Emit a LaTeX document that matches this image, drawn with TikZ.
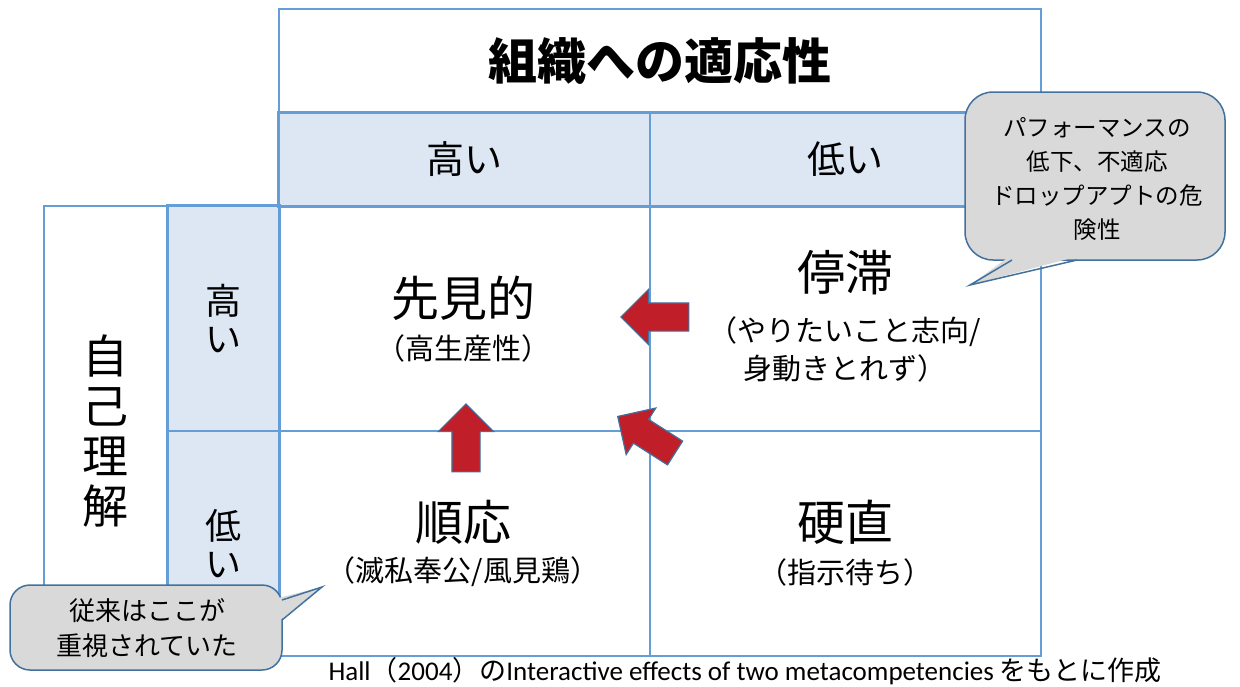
\documentclass[tikz,border=0pt]{standalone}
\usepackage{fontspec}
\setmainfont{Noto Sans CJK JP}
\newfontfamily\latinfont{Carlito}
\usepackage{xcolor}
\usepackage{tikz}
\usetikzlibrary{shapes.arrows}
\definecolor{gridcolor}{RGB}{101, 157, 214}
\definecolor{headcolor}{RGB}{221, 231, 243}
\definecolor{notecolor}{RGB}{217, 217, 217}
\definecolor{notelinecolor}{RGB}{65, 113, 156}
\definecolor{arrowcolor}{RGB}{192, 30, 40}
\tikzset{
    cell/.style={rectangle, draw=gridcolor, line width=1.6pt, anchor=north west, inner sep=0pt, align=center},
    head cell/.style={cell, fill=headcolor},
    head frame/.style={draw=gridcolor, line width=3pt},
    cell title/.style={font=\fontsize{48}{50}\selectfont, inner sep=0pt},
    cell sub/.style={font=\fontsize{29}{38}\selectfont, inner sep=0pt, align=center},
    note/.style={fill=notecolor, draw=notelinecolor, line width=1.5pt},
    note text/.style={align=center, inner sep=0pt},
    big arrow/.style={single arrow, fill=arrowcolor, draw=notelinecolor, line width=1.2pt, minimum height=68pt, minimum width=54pt, single arrow head extend=13.5pt, inner xsep=0pt, inner ysep=13.5pt, anchor=tip}
}
\begin{document}
\begin{tikzpicture}[x=1pt,y=-1pt]
\useasboundingbox (0,0) rectangle (1240,686);
% grid
\node[cell, minimum width=762pt, minimum height=104pt, font=\fontsize{49}{49}\selectfont\bfseries] (title) at (278,8) {組織への適応性};
\node[head cell, minimum width=371pt, minimum height=93pt, font=\fontsize{38}{38}\selectfont] (hdrHigh) at (278,112) {高い};
\node[head cell, minimum width=391pt, minimum height=93pt, font=\fontsize{38}{38}\selectfont] (hdrLow) at (649,112) {低い};
\node[cell, minimum width=124pt, minimum height=450pt, font=\fontsize{46}{50}\selectfont] (self) at (43,205) {自\\己\\理\\解};
\node[head cell, minimum width=111pt, minimum height=225pt, font=\fontsize{36}{38}\selectfont] (colHigh) at (167,205) {高\\い};
\node[head cell, minimum width=111pt, minimum height=225pt, font=\fontsize{36}{38}\selectfont] (colLow) at (167,430) {低\\い};
\node[cell, minimum width=371pt, minimum height=225pt] (hh) at (278,205) {};
\node[cell, minimum width=391pt, minimum height=225pt] (hl) at (649,205) {};
\node[cell, minimum width=371pt, minimum height=225pt] (lh) at (278,430) {};
\node[cell, minimum width=391pt, minimum height=225pt] (ll) at (649,430) {};
\draw[head frame] (hdrHigh.north west) rectangle (hdrLow.south east);
\draw[head frame] (colHigh.north west) rectangle (colLow.south east);
% cell texts
\node[cell title] (hhT) at (463,298) {先見的};
\node[cell sub] (hhS) at (463,348) {（高生産性）};
\node[cell title] (hlT) at (845,273) {停滞};
\node[cell sub] (hlS) at (845,349) {（やりたいこと志向/\\身動きとれず）};
\node[cell title] (lhT) at (463,522) {順応};
\node[cell sub] (lhS) at (463,572) {（滅私奉公/風見鶏）};
\node[cell title] (llT) at (845,522) {硬直};
\node[cell sub] (llS) at (845,572) {（指示待ち）};
% arrows
\node[big arrow, rotate=180] (toFront) at (620,317) {};
\node[big arrow, rotate=90] (fromAdapt) at (466,403) {};
\node[big arrow, rotate=147.5] (fromRigid) at (617,416) {};
% callouts
\coordinate (topTip) at (970,285);
\coordinate (topA) at (1012,260);
\coordinate (topB) at (1077,260);
\draw[note, rounded corners=28pt] (965,92) rectangle (1225,260);
\fill[notecolor] (1010,256) -- (topTip) -- (1079,256) -- cycle;
\draw[note, fill=none, line join=miter] (topA) -- (topTip) -- (topB);
\node[note text, font=\fontsize{23.5}{34}\selectfont] (topNote) at (1097,179) {パフォーマンスの\\低下、不適応\\ドロップアプトの危\\険性};
\coordinate (botTip) at (322,587);
\coordinate (botA) at (282,600);
\coordinate (botB) at (282,620);
\draw[note, rounded corners=20pt] (10,585) rectangle (282,670);
\fill[notecolor] (278,598) -- (botTip) -- (278,622) -- cycle;
\draw[note, fill=none, line join=miter] (botA) -- (botTip) -- (botB);
\node[note text, font=\fontsize{26}{35}\selectfont] (botNote) at (147,628) {従来はここが\\重視されていた};
% source
\node[inner sep=0pt, font=\fontsize{27}{27}\selectfont] (source) at (745,671) {{\latinfont Hall}（{\latinfont 2004}）の{\latinfont Interactive effects of two metacompetencies }をもとに作成};
\end{tikzpicture}
\end{document}
